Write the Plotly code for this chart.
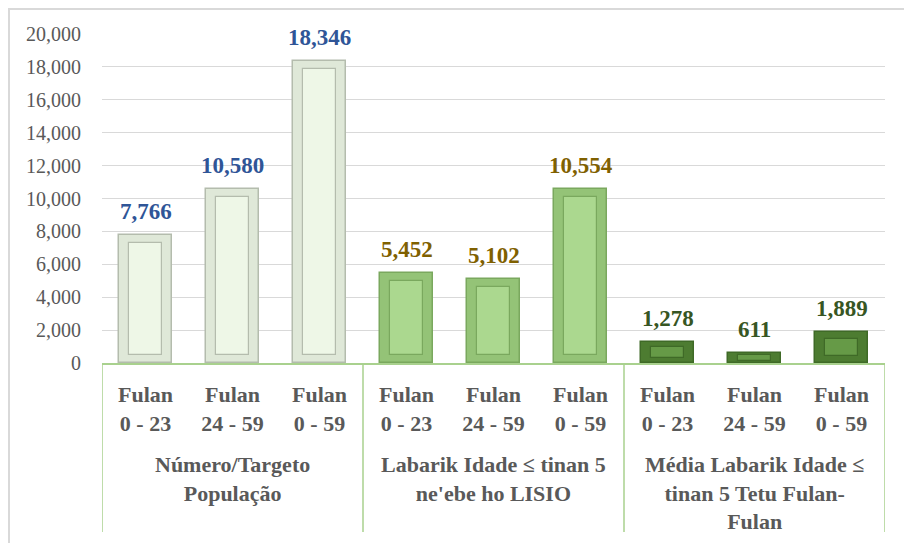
import plotly.graph_objects as go

# ---- data ----
groups = ["Número/Targeto<br>População",
          "Labarik Idade ≤ tinan 5<br>ne'ebe ho LISIO",
          "Média Labarik Idade ≤<br>tinan 5 Tetu Fulan-<br>Fulan"]
sub_labels = ["Fulan<br>0 - 23", "Fulan<br>24 - 59", "Fulan<br>0 - 59"]
values_pop = [7766, 10580, 18346]
values_lisio = [5452, 5102, 10554]
values_avg = [1278, 611, 1889]
y_ticks = [0, 2000, 4000, 6000, 8000, 10000, 12000, 14000, 16000, 18000, 20000]

series = [values_pop, values_lisio, values_avg]
outer_col = ["#dfe8d8", "#94c377", "#4d7c31"]
inner_col = ["#eef7e7", "#abd88f", "#669a47"]
line_col = ["#b4bcad", "#7aa85e", "#3f6a27"]
label_col = ["#2f5597", "#7f6000", "#375623"]

values, ticktext, oc, ic, lc, lab = [], [], [], [], [], []
for g, vals in enumerate(series):
    for j, v in enumerate(vals):
        values.append(v)
        ticktext.append(sub_labels[j])
        oc.append(outer_col[g]); ic.append(inner_col[g]); lc.append(line_col[g]); lab.append(label_col[g])
idx = list(range(len(values)))

inset = [min(480, v * 0.22) for v in values]
inner_h = [v - 2 * s for v, s in zip(values, inset)]

FONT = "Liberation Serif"

fig = go.Figure()
fig.add_trace(go.Bar(x=idx, y=values, width=0.6,
                     marker=dict(color=oc, line=dict(color=lc, width=1.5)),
                     hoverinfo="skip", showlegend=False))
fig.add_trace(go.Bar(x=idx, y=inner_h, base=inset, width=0.39,
                     marker=dict(color=ic, line=dict(color=lc, width=1.2)),
                     hoverinfo="skip", showlegend=False))

# value labels
for i, v in enumerate(values):
    fig.add_annotation(x=i, y=v, text=f"<b>{v:,}</b>", showarrow=False,
                       yanchor="bottom", yshift=9,
                       font=dict(family=FONT, size=23, color=lab[i]))

# group labels
n = len(sub_labels)
for g, name in enumerate(groups):
    center = g * n + (n - 1) / 2
    fig.add_annotation(x=center, xref="x", y=-0.265, yref="paper", yanchor="top",
                       text=f"<b>{name}</b>", showarrow=False,
                       font=dict(family=FONT, size=22, color="#595959"))

# dividers
for g in range(len(groups) + 1):
    xb = g * n - 0.5
    fig.add_shape(type="line", xref="x", yref="paper", x0=xb, x1=xb, y0=0, y1=-0.514,
                  line=dict(color="#a9d18e", width=1.5))

# outer border
fig.add_shape(type="rect", xref="paper", yref="paper",
              x0=-0.1188, x1=1.05, y0=-0.6, y1=1.076,
              line=dict(color="#d9d9d9", width=2))

fig.update_layout(
    width=904, height=535,
    font=dict(family=FONT),
    margin=dict(l=94, r=27, t=26, b=180),
    paper_bgcolor="white", plot_bgcolor="white",
    barmode="overlay", bargap=0,
    xaxis=dict(range=[-0.5, len(values) - 0.5], tickvals=idx,
               ticktext=[f"<b>{t}</b>" for t in ticktext],
               showgrid=False, zeroline=False, showline=True, linecolor="#a9d18e", linewidth=1.5,
               ticks="", ticklabelstandoff=11,
               tickfont=dict(family=FONT, size=22, color="#595959")),
    yaxis=dict(range=[0, 20000], tickvals=y_ticks, tickformat=",",
               showgrid=True, gridcolor="#d9d9d9", gridwidth=1.3, zeroline=False,
               ticks="", ticklabelstandoff=20,
               tickfont=dict(family=FONT, size=20, color="#595959")),
)

fig.write_html("out.html")
